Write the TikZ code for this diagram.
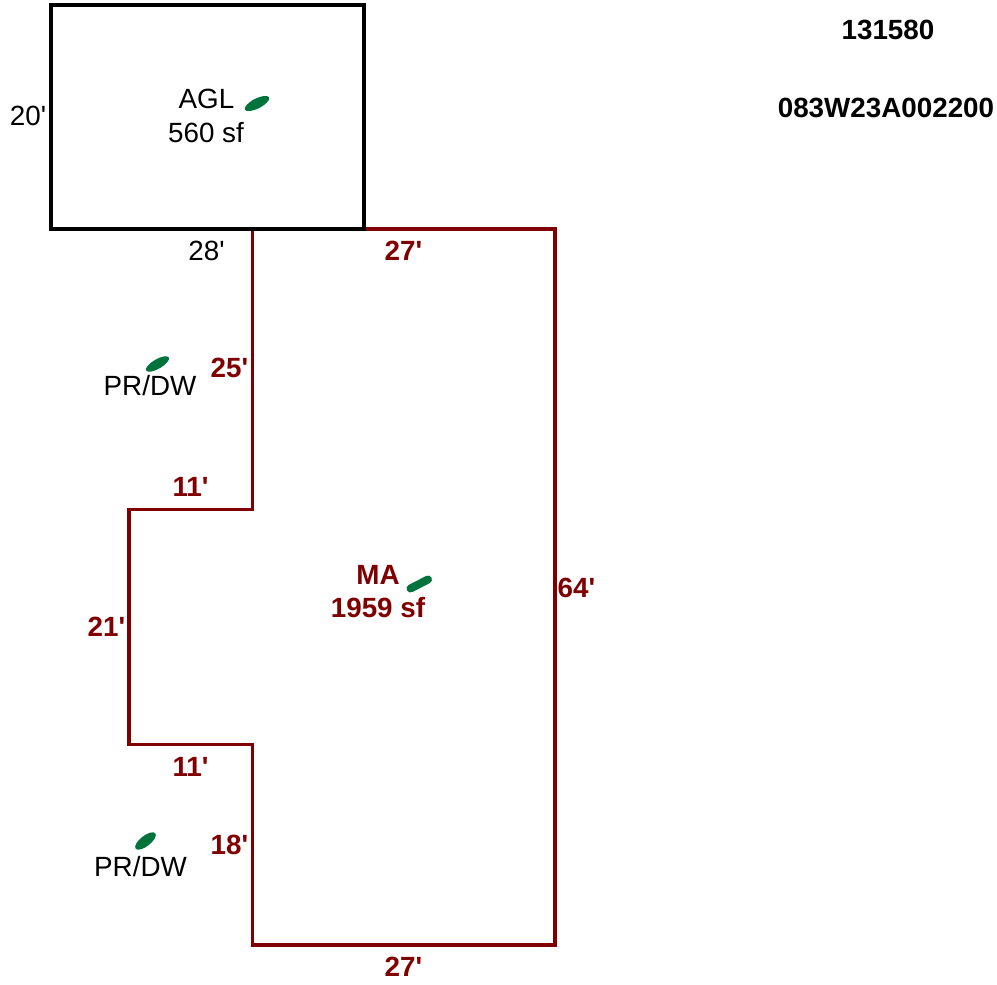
\documentclass[tikz,border=0pt]{standalone}
\usepackage{fontspec}
\newfontfamily\lib{Liberation Sans}
\definecolor{wall}{RGB}{128,0,0}
\definecolor{leaf}{RGB}{0,115,60}
\tikzset{
 blk/.style={inner sep=0pt,font=\lib\fontsize{27.8pt}{32pt}\selectfont,text=black,align=center},
 red/.style={inner sep=0pt,font=\lib\fontsize{27.8pt}{32pt}\selectfont\bfseries,text=wall,align=center},
 hdr/.style={inner sep=0pt,font=\lib\fontsize{27.8pt}{32pt}\selectfont\bfseries,text=black},
 leafmark/.style={line width=8pt,draw=leaf,line cap=round},
 leafoval/.style={fill=leaf,draw=none}
}
\begin{document}
\begin{tikzpicture}[x=1pt,y=-1pt]
\useasboundingbox (0,0) rectangle (997,985);
\draw[line width=3.1pt,wall,line join=miter] (252.5,229) -- (555,229) -- (555,945) -- (252.5,945) -- (252.5,744.5) -- (129,744.5) -- (129,509.5) -- (252.5,509.5) -- cycle;
\draw[line width=3.1pt,black,line join=miter] (51,5) rectangle (364,229);
\node[hdr] (id1) at (888,30) {131580};
\node[hdr] (id2) at (886,108) {083W23A002200};
\node[blk] (agl) at (206.5,98.5) {AGL};
\node[blk] (aglsf) at (206,132.5) {560 sf};
\node[blk] (d20) at (28,115.5) {20'};
\node[blk] (d28) at (206.5,250.5) {28'};
\node[red] (d27a) at (403.5,251) {27'};
\node[blk] (pr1) at (150,385.5) {PR/DW};
\node[red] (d25) at (229.5,368) {25'};
\node[red] (d11a) at (190.5,487) {11'};
\node[red] (ma) at (378,575) {MA};
\node[red] (masf) at (378,608) {1959 sf};
\node[red] (d64) at (576.5,588) {64'};
\node[red] (d21) at (106.5,627) {21'};
\node[red] (d11b) at (190.5,767) {11'};
\node[red] (d18) at (229.5,845) {18'};
\node[blk] (pr2) at (140.5,866.5) {PR/DW};
\node[red] (d27b) at (403.5,967) {27'};
\fill[leafoval,rotate around={27:(257,103.5)}] (257,103.5) ellipse [x radius=13.5pt,y radius=5pt];
\fill[leafoval,rotate around={30:(157.5,364)}] (157.5,364) ellipse [x radius=13pt,y radius=4.8pt];
\draw[leafmark] (410.5,588.5) -- (428,579.5);
\fill[leafoval,rotate around={38:(145.5,841)}] (145.5,841) ellipse [x radius=12.5pt,y radius=5.2pt];
\end{tikzpicture}
\end{document}
